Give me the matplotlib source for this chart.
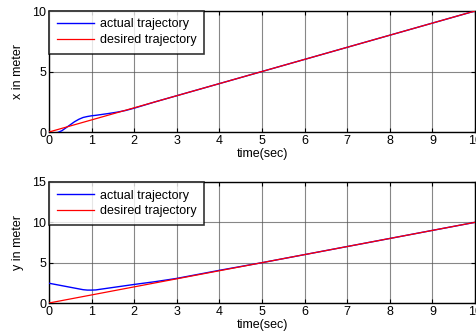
import matplotlib
matplotlib.use("Agg")
import matplotlib.pyplot as plt
import numpy as np

plt.rcParams['font.family'] = ['Liberation Sans', 'DejaVu Sans']

t_des = [0, 1, 2, 3, 4, 5, 6, 7, 8, 9, 10]
x_des = [0, 1, 2, 3, 4, 5, 6, 7, 8, 9, 10]
y_des = [0, 1, 2, 3, 4, 5, 6, 7, 8, 9, 10]

t_act = [0, 0.1, 0.2, 0.3, 0.4, 0.5, 0.6, 0.7, 0.8, 0.9, 1.0, 1.1, 1.2, 1.4, 1.6, 1.8, 2.0, 2.5, 3, 4, 5, 6, 7, 8, 9, 10]
x_act = [0, -0.08, -0.05, 0.1, 0.35, 0.6, 0.85, 1.05, 1.2, 1.28, 1.34, 1.38, 1.43, 1.53, 1.64, 1.78, 1.97, 2.5, 3.0, 4.0, 5.0, 6.0, 7.0, 8.0, 9.0, 10.0]
y_act = [2.45, 2.35, 2.25, 2.15, 2.05, 1.95, 1.85, 1.75, 1.65, 1.6, 1.6, 1.62, 1.7, 1.85, 2.0, 2.15, 2.3, 2.65, 3.05, 4.05, 5.0, 6.0, 7.0, 8.0, 9.0, 10.0]

W, H = 476, 335
fig = plt.figure(figsize=(W / 100, H / 100), dpi=100)

def make_ax(top_px, bot_px):
    left = 49 / W
    right = 475 / W
    return fig.add_axes([left, 1 - bot_px / H, right - left, (bot_px - top_px) / H])

ax1 = make_ax(11, 132)
ax2 = make_ax(182, 303)

panels = [
    (ax1, x_act, x_des, 'x in meter', [0, 10], [0, 5, 10]),
    (ax2, y_act, y_des, 'y in meter', [0, 15], [0, 5, 10, 15]),
]

for ax, act, des, ylab, ylim, yt in panels:
    ax.plot(t_act, act, color='#0000ff', lw=1.0, label='actual trajectory', zorder=3)
    ax.plot(t_des, des, color='#ff0000', lw=0.9, label='desired trajectory', zorder=4)
    ax.set_xlim(0, 10)
    ax.set_ylim(*ylim)
    ax.set_xticks(range(11))
    ax.set_yticks(yt)
    ax.grid(True, color='#555555', lw=0.8, alpha=0.7)
    ax.tick_params(direction='in', top=True, right=True, labelsize=9, length=3, pad=2)
    ax.set_xlabel('time(sec)', fontsize=9, labelpad=1)
    ax.set_ylabel(ylab, fontsize=9, labelpad=6)
    for s in ax.spines.values():
        s.set_linewidth(1.0)
    leg = ax.legend(loc='upper left', fontsize=9, frameon=True, fancybox=False,
                    edgecolor='black', borderaxespad=0, handlelength=3.0,
                    borderpad=0.6, labelspacing=0.3, handletextpad=0.45)
    leg.get_frame().set_linewidth(1.2)

fig.savefig('out.png', dpi=100)
